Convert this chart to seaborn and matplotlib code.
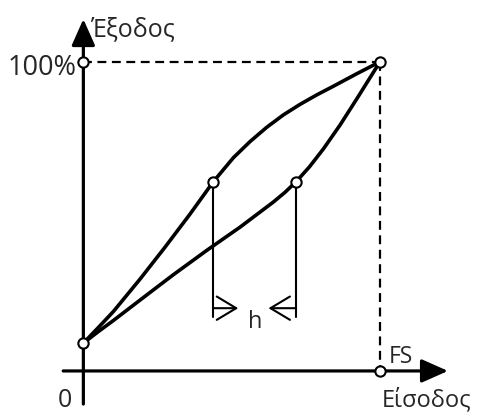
import matplotlib
matplotlib.use("Agg")
import matplotlib.pyplot as plt
import seaborn as sns
import pandas as pd

# ==========================================
# DATA (x: fraction of FS, y: fraction of 100% output)
# ==========================================
upper_x = [0.0, 0.05, 0.101, 0.191, 0.275, 0.360, 0.438, 0.506, 0.562, 0.618,
           0.674, 0.730, 0.787, 0.843, 0.921, 1.0]
upper_y = [0.090, 0.140, 0.192, 0.297, 0.400, 0.508, 0.612, 0.690, 0.742, 0.788,
           0.828, 0.862, 0.893, 0.921, 0.961, 1.0]

lower_x = [0.0, 0.05, 0.101, 0.214, 0.303, 0.416, 0.528, 0.640, 0.680, 0.717,
           0.762, 0.809, 0.865, 0.921, 0.966, 1.0]
lower_y = [0.090, 0.127, 0.163, 0.246, 0.311, 0.390, 0.465, 0.546, 0.578, 0.612,
           0.660, 0.718, 0.795, 0.879, 0.948, 1.0]

# marked points: start, two hysteresis points, full scale corner, 100% and FS on the axes
point_x = [0.0, 0.438, 0.717, 1.0, 0.0, 1.0]
point_y = [0.090, 0.612, 0.612, 1.0, 1.0, 0.0]

h_left, h_right = 0.438, 0.717
h_level = 0.612

sns.set_style("white")
plt.rcParams['font.family'] = ['Open Sans', 'DejaVu Sans']

fig = plt.figure(figsize=(4.8, 4.14), dpi=100)
ax = fig.add_axes([0, 0, 1, 1])
ax.set_xlim(-0.281, 1.337)
ax.set_ylim(-0.136, 1.203)
ax.axis('off')

# axes with arrows
axis_arrow = dict(arrowstyle='-|>,head_length=0.9,head_width=0.4',
                  mutation_scale=18, lw=2.3, color='black', shrinkA=0, shrinkB=0)
ax.annotate('', xy=(0, 1.138), xytext=(0, -0.107), arrowprops=axis_arrow)
ax.annotate('', xy=(1.229, 0), xytext=(-0.068, 0), arrowprops=axis_arrow)

# dashed guides
ax.plot([0, 1], [1, 1], ls=(0, (4, 2.5)), color='black', lw=1.6)
ax.plot([1, 1], [1, 0], ls=(0, (4, 2.5)), color='black', lw=1.6)

# hysteresis curves
curves = pd.concat([
    pd.DataFrame({'x': upper_x, 'y': upper_y, 'branch': 'up'}),
    pd.DataFrame({'x': lower_x, 'y': lower_y, 'branch': 'down'}),
])
sns.lineplot(data=curves, x='x', y='y', units='branch', estimator=None,
             sort=False, color='black', lw=2.6, ax=ax)

# h marker lines
for xv in (h_left, h_right):
    ax.plot([xv, xv], [h_level, 0.175], color='black', lw=1.5)
h_arrow = dict(arrowstyle='->,head_length=1.0,head_width=0.6',
               mutation_scale=14, lw=1.5, color='black', shrinkA=0, shrinkB=0)
ax.annotate('', xy=(0.522, 0.203), xytext=(h_left, 0.203), arrowprops=h_arrow)
ax.annotate('', xy=(0.624, 0.203), xytext=(h_right, 0.203), arrowprops=h_arrow)

# open circles
sns.scatterplot(x=point_x, y=point_y, s=55, color='white', edgecolor='black',
                linewidth=1.5, zorder=5, ax=ax)

# labels
ax.text(0.022, 1.086, 'Έξοδος', fontsize=18, ha='left', va='baseline')
ax.text(-0.022, 0.960, '100%', fontsize=19.5, ha='right', va='baseline')
ax.text(1.007, -0.110, 'Είσοδος', fontsize=17, ha='left', va='baseline')
ax.text(1.030, 0.028, 'FS', fontsize=16.5, ha='left', va='baseline')
ax.text(-0.063, -0.112, '0', fontsize=18, ha='center', va='baseline')
ax.text(0.579, 0.142, 'h', fontsize=17, ha='center', va='baseline')

fig.savefig('out.png', dpi=100)
